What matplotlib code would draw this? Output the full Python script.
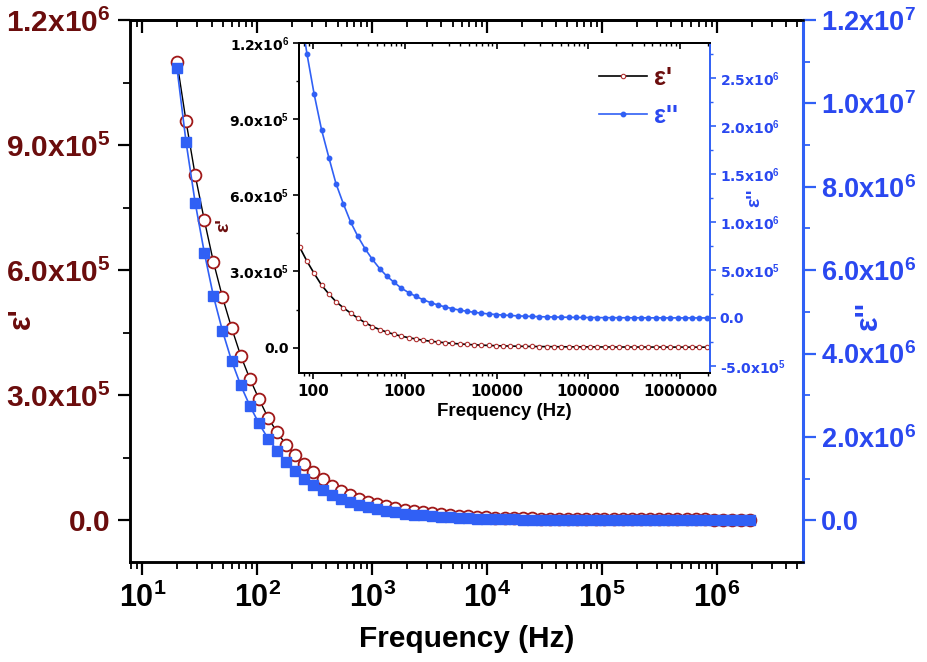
import matplotlib
matplotlib.use("Agg")
import matplotlib.pyplot as plt
from matplotlib.ticker import FixedLocator, LogLocator, NullFormatter

# ---------------- data ----------------
freq = [20, 24, 28.8, 34.6, 41.5, 49.8, 59.7, 71.7, 86, 103,
        124, 149, 178, 214, 257, 308, 370, 444, 532, 639,
        767, 920, 1100, 1320, 1590, 1910, 2290, 2750, 3300, 3960,
        4750, 5700, 6840, 8200, 9850, 11800, 14200, 17000, 20400, 24500,
        29400, 35300, 42300, 50800, 61000, 73200, 87800, 105000, 126000, 152000,
        182000, 218000, 262000, 315000, 377000, 453000, 544000, 652000, 783000, 939000,
        1130000, 1350000, 1620000, 1950000]

eps_real = [1.10e6, 9.57e5, 8.28e5, 7.20e5, 6.20e5, 5.35e5, 4.62e5, 3.95e5, 3.40e5, 2.92e5,
            2.46e5, 2.11e5, 1.81e5, 1.57e5, 1.36e5, 1.16e5, 9.8e4, 8.3e4, 7.1e4, 6.1e4,
            5.2e4, 4.5e4, 3.9e4, 3.4e4, 2.9e4, 2.5e4, 2.2e4, 1.9e4, 1.65e4, 1.45e4,
            1.25e4, 1.1e4, 9.6e3, 8.4e3, 7.4e3, 6.6e3, 5.9e3, 5.3e3, 4.8e3, 4.4e3,
            4.0e3, 3.7e3, 3.4e3, 3.2e3, 3.0e3, 2.8e3, 2.7e3, 2.6e3, 2.5e3, 2.4e3,
            2.3e3, 2.25e3, 2.2e3, 2.15e3, 2.1e3, 2.05e3, 2.0e3, 1.95e3, 1.9e3, 1.85e3,
            1.8e3, 1.75e3, 1.7e3, 1.65e3]

eps_imag = [1.085e7, 9.07e6, 7.62e6, 6.42e6, 5.38e6, 4.54e6, 3.83e6, 3.24e6, 2.75e6, 2.33e6,
            1.96e6, 1.67e6, 1.40e6, 1.19e6, 1.00e6, 8.5e5, 7.2e5, 6.1e5, 5.15e5, 4.35e5,
            3.7e5, 3.1e5, 2.65e5, 2.25e5, 1.9e5, 1.6e5, 1.36e5, 1.15e5, 9.7e4, 8.2e4,
            7.0e4, 5.9e4, 5.0e4, 4.2e4, 3.6e4, 3.0e4, 2.6e4, 2.2e4, 1.85e4, 1.6e4,
            1.35e4, 1.15e4, 9.8e3, 8.3e3, 7.1e3, 6.0e3, 5.1e3, 4.4e3, 3.8e3, 3.2e3,
            2.8e3, 2.4e3, 2.1e3, 1.8e3, 1.6e3, 1.4e3, 1.2e3, 1.05e3, 900, 800,
            700, 620, 550, 480]

# tick labels
main_xticks = [1e1, 1e2, 1e3, 1e4, 1e5, 1e6]
main_xlabels = [r"10$^1$", r"10$^2$", r"10$^3$", r"10$^4$", r"10$^5$", r"10$^6$"]
main_lticks = [0, 3e5, 6e5, 9e5, 1.2e6]
main_llabels = ["0.0", r"3.0x10$^5$", r"6.0x10$^5$", r"9.0x10$^5$", r"1.2x10$^6$"]
main_lminor = [1.5e5, 4.5e5, 7.5e5, 1.05e6]
main_rticks = [0, 2e6, 4e6, 6e6, 8e6, 1e7, 1.2e7]
main_rlabels = ["0.0", r"2.0x10$^6$", r"4.0x10$^6$", r"6.0x10$^6$", r"8.0x10$^6$",
                r"1.0x10$^7$", r"1.2x10$^7$"]
main_rminor = [1e6, 3e6, 5e6, 7e6, 9e6, 1.1e7]

ins_xticks = [1e2, 1e3, 1e4, 1e5, 1e6]
ins_xlabels = ["100", "1000", "10000", "100000", "1000000"]
ins_lticks = [0, 3e5, 6e5, 9e5, 1.2e6]
ins_llabels = ["0.0", r"3.0x10$^5$", r"6.0x10$^5$", r"9.0x10$^5$", r"1.2x10$^6$"]
ins_lminor = [1.5e5, 4.5e5, 7.5e5, 1.05e6]
ins_rticks = [-5e5, 0, 5e5, 1e6, 1.5e6, 2e6, 2.5e6]
ins_rlabels = [r"-5.0x10$^5$", "0.0", r"5.0x10$^5$", r"1.0x10$^6$", r"1.5x10$^6$",
               r"2.0x10$^6$", r"2.5x10$^6$"]
ins_rminor = [-2.5e5, 2.5e5, 7.5e5, 1.25e6, 1.75e6, 2.25e6, 2.75e6]

# ---------------- style ----------------
plt.rcParams["font.family"] = ["Liberation Sans", "DejaVu Sans"]
plt.rcParams["font.weight"] = "bold"
plt.rcParams["mathtext.fontset"] = "custom"
plt.rcParams["mathtext.rm"] = "Liberation Sans:bold"
plt.rcParams["mathtext.it"] = "Liberation Sans:bold"
plt.rcParams["mathtext.bf"] = "Liberation Sans:bold"

DARKRED = "#6b0d0d"
MRED = "#a01818"
BLUE = "#3060f5"
BLUE_T = "#2a48f0"

fig = plt.figure(figsize=(9.27, 6.62), dpi=100)

# ---------------- main axes ----------------
ax = fig.add_axes([0.1402, 0.1511, 0.7260, 0.8187])
ax.set_xscale("log")
ax.set_xlim(7.8, 5.6e6)
ax.set_ylim(-1e5, 1.2e6)
ax.plot(freq, eps_real, "-", color="black", lw=1.0, marker="o", ms=8.5,
        mfc="white", mec=MRED, mew=1.3, zorder=3)

ax.set_xticks(main_xticks, labels=main_xlabels)
ax.xaxis.set_minor_locator(LogLocator(base=10, subs=range(2, 10), numticks=30))
ax.xaxis.set_minor_formatter(NullFormatter())
ax.set_yticks(main_lticks, labels=main_llabels)
ax.yaxis.set_minor_locator(FixedLocator(main_lminor))
ax.tick_params(axis="x", which="major", direction="out", length=9, width=1.6,
               labelsize=22, pad=6)
ax.tick_params(axis="x", which="minor", direction="out", length=5, width=1.3)
ax.tick_params(axis="y", which="major", direction="out", length=9, width=1.6,
               labelsize=21.5, labelcolor=DARKRED, pad=5)
ax.tick_params(axis="y", which="minor", direction="out", length=5, width=1.3)
for s in ax.spines.values():
    s.set_linewidth(1.8)
ax.spines["right"].set_visible(False)

sec = ax.secondary_xaxis("top")
sec.set_xticks(main_xticks)
sec.xaxis.set_minor_locator(LogLocator(base=10, subs=range(2, 10), numticks=30))
sec.xaxis.set_minor_formatter(NullFormatter())
sec.tick_params(axis="x", which="major", direction="in", length=9, width=1.6, labeltop=False)
sec.tick_params(axis="x", which="minor", direction="in", length=5, width=1.3)
sec.spines["top"].set_linewidth(1.8)

ax.set_xlabel("Frequency (Hz)", fontsize=21.5, fontweight="bold", labelpad=8)
ax.set_ylabel("\u03b5'", fontsize=22, fontweight="bold", color=DARKRED)
ax.yaxis.set_label_coords(-0.138, 0.45)

ax2 = ax.twinx()
ax2.set_ylim(-1e6, 1.2e7)
ax2.plot(freq, eps_imag, "-", color=BLUE, lw=1.2, marker="s", ms=7.5,
         mfc=BLUE, mec=BLUE, zorder=3)
ax2.set_yticks(main_rticks, labels=main_rlabels)
ax2.yaxis.set_minor_locator(FixedLocator(main_rminor))
ax2.tick_params(axis="y", which="major", direction="out", length=9, width=1.6,
                labelsize=19.5, color=BLUE, labelcolor=BLUE_T, pad=4)
ax2.tick_params(axis="y", which="minor", direction="out", length=5, width=1.3, color=BLUE)
for s in ax2.spines.values():
    s.set_linewidth(1.8)
ax2.spines["right"].set_color(BLUE)
ax2.spines["right"].set_linewidth(2.2)
ax2.set_ylabel("\u03b5''", fontsize=22, fontweight="bold", color=BLUE_T)
ax2.yaxis.set_label_coords(1.076, 0.454)

# ---------------- inset ----------------
axin = fig.add_axes([0.3225, 0.4366, 0.4434, 0.4985])
axin.set_xscale("log")
axin.set_xlim(70.3, 2.12e6)
axin.set_ylim(-1e5, 1.2e6)
l1, = axin.plot(freq, eps_real, "-", color="black", lw=1.2, marker="o", ms=3.2,
                mfc="white", mec="#b03030", mew=0.8, label="\u03b5'")
axin.set_xticks(ins_xticks, labels=ins_xlabels)
axin.xaxis.set_minor_locator(LogLocator(base=10, subs=range(2, 10), numticks=30))
axin.xaxis.set_minor_formatter(NullFormatter())
axin.set_yticks(ins_lticks, labels=ins_llabels)
axin.yaxis.set_minor_locator(FixedLocator(ins_lminor))
axin.tick_params(axis="x", which="major", direction="out", length=4, width=1.2,
                 labelsize=11, pad=4, labelfontfamily="DejaVu Sans")
axin.tick_params(axis="x", which="minor", direction="out", length=2.5, width=1.0)
axin.tick_params(axis="y", which="major", direction="out", length=4, width=1.2,
                 labelsize=10, pad=3, labelfontfamily="DejaVu Sans")
axin.tick_params(axis="y", which="minor", direction="out", length=2.5, width=1.0)
for s in axin.spines.values():
    s.set_linewidth(1.4)
axin.spines["right"].set_visible(False)

secin = axin.secondary_xaxis("top")
secin.set_xticks(ins_xticks)
secin.xaxis.set_minor_locator(LogLocator(base=10, subs=range(2, 10), numticks=30))
secin.xaxis.set_minor_formatter(NullFormatter())
secin.tick_params(axis="x", which="major", direction="in", length=4, width=1.2, labeltop=False)
secin.tick_params(axis="x", which="minor", direction="in", length=2.5, width=1.0)
secin.spines["top"].set_linewidth(1.4)

axin.set_xlabel("Frequency (Hz)", fontsize=13.5, fontweight="bold", labelpad=3)
axin.set_ylabel("\u03b5'", fontsize=14, fontweight="bold", color=DARKRED)
axin.yaxis.set_label_coords(-0.163, 0.448)

axin2 = axin.twinx()
axin2.set_ylim(-5.73e5, 2.865e6)
l2, = axin2.plot(freq, eps_imag, "-", color=BLUE, lw=1.2, marker="o", ms=3.2,
                 mfc=BLUE, mec=BLUE, label="\u03b5''")
axin2.set_yticks(ins_rticks, labels=ins_rlabels)
axin2.yaxis.set_minor_locator(FixedLocator(ins_rminor))
axin2.tick_params(axis="y", which="major", direction="out", length=4, width=1.2,
                  labelsize=10, pad=3, color=BLUE, labelcolor=BLUE_T,
                  labelfontfamily="DejaVu Sans")
axin2.tick_params(axis="y", which="minor", direction="out", length=2.5, width=1.0, color=BLUE)
for s in axin2.spines.values():
    s.set_linewidth(1.4)
axin2.spines["right"].set_color(BLUE)
axin2.set_ylabel("\u03b5''", fontsize=14, fontweight="bold", color=BLUE_T)
axin2.yaxis.set_label_coords(1.088, 0.53)

leg = axin2.legend(handles=[l1, l2], loc="upper left", bbox_to_anchor=(0.73, 0.93),
                   frameon=False, fontsize=18, handlelength=1.9, handletextpad=0.3,
                   labelspacing=0.55, borderpad=0, borderaxespad=0)
leg.get_texts()[0].set_color(DARKRED)
leg.get_texts()[1].set_color(BLUE_T)

fig.savefig("out.png", dpi=100)
